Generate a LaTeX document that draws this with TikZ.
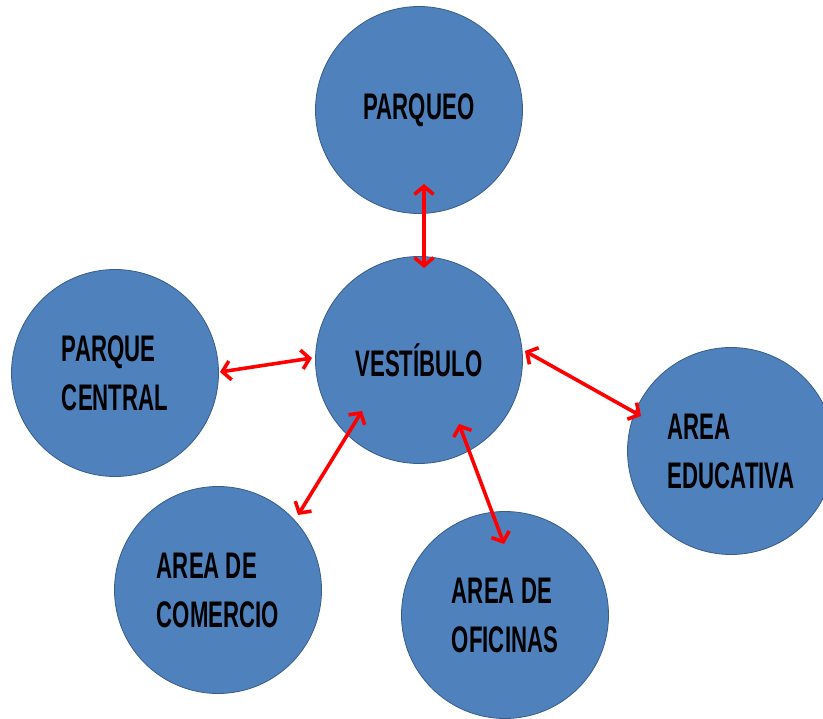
\documentclass[tikz,border=0pt]{standalone}
\usepackage{fontspec}
\setmainfont{Liberation Sans}[FakeStretch=0.6]
\usetikzlibrary{arrows.meta}
\definecolor{circfill}{HTML}{4F81BD}
\definecolor{circline}{HTML}{385D8A}
\definecolor{arrred}{HTML}{FF0000}
\tikzset{
  zone/.style={circle, fill=circfill, draw=circline, line width=0.8pt,
    minimum size=207pt, inner sep=0pt, align=left,
    font=\bfseries\fontsize{37}{49}\selectfont},
  link/.style={draw=arrred, line width=3.6pt,
    {Straight Barb[length=8pt,width=19pt,line width=3.6pt]}-{Straight Barb[length=8pt,width=19pt,line width=3.6pt]}}
}
\begin{document}
\begin{tikzpicture}[x=1pt,y=-1pt]
\useasboundingbox (0,0) rectangle (823,719);
\node[zone] (parqueo) at (419,110) {PARQUEO};
\node[zone] (vest) at (419,360) {\raisebox{-4pt}{VESTÍBULO}};
\node[zone] (central) at (115,373) {PARQUE\\CENTRAL};
\node[zone] (educ) at (731,451) {AREA\\EDUCATIVA};
\node[zone] (comer) at (218,590) {AREA DE\\COMERCIO};
\node[zone] (ofic) at (505,615) {AREA DE\\OFICINAS};
\coordinate (p1) at (424,184);
\coordinate (p2) at (424,268);
\coordinate (c1) at (220,372);
\coordinate (c2) at (312,358);
\coordinate (e1) at (525,351);
\coordinate (e2) at (641,416);
\coordinate (m1) at (362,411);
\coordinate (m2) at (298,515);
\coordinate (o1) at (459,424);
\coordinate (o2) at (504,544);
\draw[link] (p1) -- (p2);
\draw[link] (c1) -- (c2);
\draw[link] (e1) -- (e2);
\draw[link] (m1) -- (m2);
\draw[link] (o1) -- (o2);
\end{tikzpicture}
\end{document}
